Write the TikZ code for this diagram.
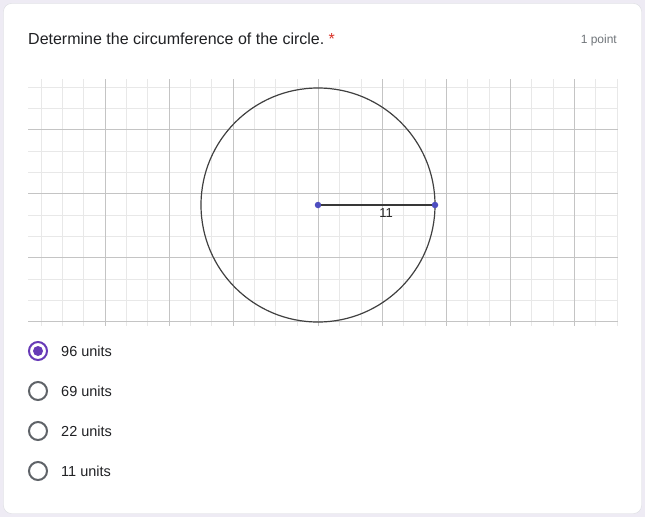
\documentclass[tikz,border=0pt]{standalone}
\usepackage{fontspec}
\setmainfont{Liberation Sans}
\usepackage{tikz}
\usetikzlibrary{positioning}
\definecolor{pagebg}{HTML}{EEEBF4}
\definecolor{cardline}{HTML}{DADCE0}
\definecolor{txtdark}{HTML}{202124}
\definecolor{txtgray}{HTML}{70757A}
\definecolor{reqred}{HTML}{D93025}
\definecolor{formpurple}{HTML}{673AB7}
\definecolor{radiogray}{HTML}{5F6368}
\definecolor{gridminor}{HTML}{E8E8E8}
\definecolor{gridmajor}{HTML}{C4C4C4}
\definecolor{ggblue}{HTML}{4D4DC0}
\tikzset{
	gminor/.style={gridminor, line width=0.8pt},
	gmajor/.style={gridmajor, line width=0.9pt},
	ggpoint/.style={circle, fill=ggblue, inner sep=0pt, minimum size=6.5pt},
	radio/.style={circle, draw=radiogray, line width=2pt, inner sep=0pt, minimum size=18pt},
	optlabel/.style={anchor=west, inner sep=0pt, text=txtdark, font=\fontsize{14.5}{16}\selectfont}
}

\begin{document}
\begin{tikzpicture}[x=1pt, y=-1pt]
	\useasboundingbox (0,0) rectangle (645,517);
	\fill[pagebg] (0,0) rectangle (645,517);
	\draw[cardline, fill=white, rounded corners=8pt] (3.5,3.5) rectangle (641.5,513.5);
	% header
	\node[anchor=west, inner sep=0pt, text=txtdark, font=\fontsize{16}{18}\selectfont] (title) at (28,39) {Determine the circumference of the circle.};
	\node[right=4pt of title.north east, anchor=north west, inner sep=0pt, text=reqred, font=\fontsize{16}{18}\selectfont] (star) {*};
	\node[anchor=east, inner sep=0pt, text=txtgray, font=\fontsize{12}{14}\selectfont] (pts) at (617,40) {1 point};
	% grid
	\foreach \k in {0,...,27}
		\draw[gminor] ({41+21.333*\k},79) -- ({41+21.333*\k},326);
	\foreach \j in {0,...,11}
		\draw[gminor] (28,{87+21.333*\j}) -- (618,{87+21.333*\j});
	\foreach \k in {3,6,9,13,16,19,22,25}
		\draw[gmajor] ({41+21.333*\k},79) -- ({41+21.333*\k},326);
	\foreach \j in {2,5,8,11}
		\draw[gmajor] (28,{87+21.333*\j}) -- (618,{87+21.333*\j});
	% circle and radius
	\coordinate (o) at (318,205);
	\draw[black!75, line width=1.2pt] (o) circle[radius=117];
	\node[ggpoint] (ctr) at (o) {};
	\node[ggpoint] (rim) at (435,205) {};
	\draw[black!78, line width=1.2pt] (ctr) -- (rim);
	\node[inner sep=0pt, text=black!85, font=\fontsize{13}{14}\selectfont] (len) at (386,213.5) {11};
	% choices
	\node[radio, draw=formpurple] (r1) at (38,351) {};
	\node[circle, fill=formpurple, inner sep=0pt, minimum size=10pt] (dot) at (r1) {};
	\node[radio] (r2) at (38,391) {};
	\node[radio] (r3) at (38,431) {};
	\node[radio] (r4) at (38,471) {};
	\node[optlabel, right=13pt of r1] (a1) {96 units};
	\node[optlabel, right=13pt of r2] (a2) {69 units};
	\node[optlabel, right=13pt of r3] (a3) {22 units};
	\node[optlabel, right=13pt of r4] (a4) {11 units};
\end{tikzpicture}
\end{document}
